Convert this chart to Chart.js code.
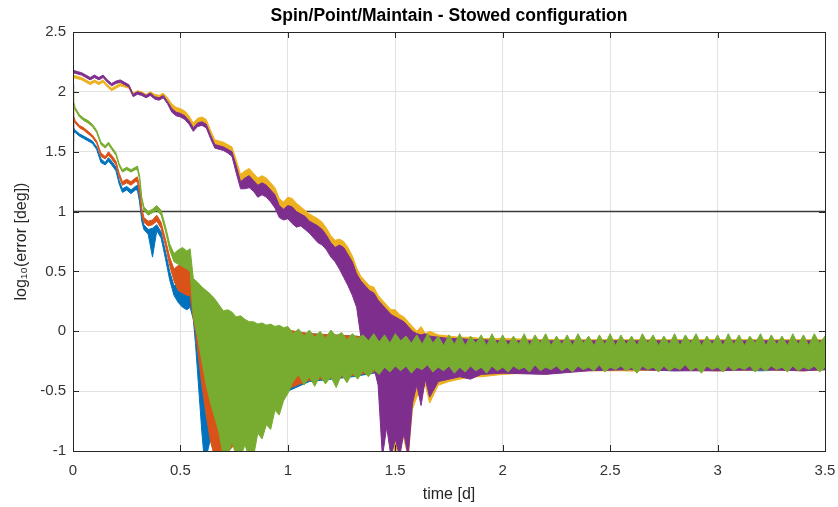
<!DOCTYPE html>
<html>
<head>
<meta charset="utf-8">
<script src="https://cdn.jsdelivr.net/npm/chart.js@4.4.1/dist/chart.umd.min.js"></script>
<style>
  html, body { margin: 0; padding: 0; background: #fff; }
  canvas { display: block; }
</style>
</head>
<body>
<canvas id="chart" width="838" height="507"></canvas>
<script>
// 軸の目盛り
const xTickValues = [0, 0.5, 1, 1.5, 2, 2.5, 3, 3.5];
const yTickValues = [-1, -0.5, 0, 0.5, 1, 1.5, 2, 2.5];

// しきい値ライン (log10 = 1)
const levelTime = [0, 3.5];
const levelValue = [1, 1];

// 速く収束する系列（青・橙）の時刻 [d]
const fastTime = [0, 0.003, 0.01, 0.03, 0.05, 0.07, 0.09, 0.11, 0.13, 0.15, 0.165, 0.18, 0.2, 0.215, 0.23, 0.25, 0.27, 0.29, 0.3, 0.31, 0.32, 0.33, 0.35, 0.37, 0.39, 0.41, 0.43, 0.45, 0.47, 0.49, 0.51, 0.53, 0.545,
  0.56, 0.57, 0.58, 0.59, 0.6, 0.61, 0.62, 0.64, 0.66, 0.68, 0.7, 0.75, 0.8, 0.85, 0.9, 0.95, 1,
  1.1, 1.2, 1.3, 1.4, 1.5, 1.6, 1.7, 1.8, 2, 2.2, 2.4, 2.6, 2.8, 3, 3.2, 3.4, 3.5];

// 青：振動の上端・下端
const blueHigh = [1.76, 1.70, 1.68, 1.65, 1.63, 1.61, 1.59, 1.54, 1.44, 1.41, 1.45, 1.42, 1.37, 1.26, 1.19, 1.21, 1.18, 1.21, 1.22, 1.12, 0.96, 0.89, 0.85, 0.86, 0.89, 0.83, 0.67, 0.50, 0.38, 0.40, 0.44, 0.40, 0.42,
  0.22, 0.16, 0.12, 0.08, 0.04, 0.02, 0.05, 0.08, 0.10, 0.08, 0.10, 0.08, 0.06, 0.05, 0.04, 0.02, 0.00,
  -0.02, -0.03, -0.04, -0.05, -0.05, -0.06, -0.06, -0.07, -0.07, -0.08, -0.08, -0.08, -0.08, -0.08, -0.08, -0.08, -0.08];
const blueLow = [1.50, 1.66, 1.66, 1.63, 1.61, 1.59, 1.57, 1.52, 1.41, 1.39, 1.42, 1.39, 1.34, 1.23, 1.16, 1.18, 1.15, 1.18, 1.18, 1.08, 0.92, 0.85, 0.81, 0.62, 0.84, 0.78, 0.61, 0.43, 0.30, 0.24, 0.20, 0.18, 0.20,
  0.10, -0.10, -0.35, -0.60, -0.85, -1.05, -1.05, -0.90, -1.05, -0.90, -1.05, -0.90, -0.85, -0.80, -0.65, -0.55, -0.50,
  -0.42, -0.40, -0.38, -0.35, -0.34, -0.35, -0.34, -0.35, -0.33, -0.33, -0.32, -0.32, -0.33, -0.32, -0.33, -0.32, -0.32];

// 橙
const orangeHigh = [1.86, 1.80, 1.76, 1.72, 1.70, 1.67, 1.64, 1.59, 1.49, 1.46, 1.50, 1.47, 1.42, 1.32, 1.25, 1.27, 1.25, 1.28, 1.29, 1.20, 1.03, 0.95, 0.92, 0.93, 0.97, 0.91, 0.77, 0.62, 0.52, 0.55, 0.58, 0.55, 0.57,
  0.34, 0.30, 0.26, 0.22, 0.20, 0.18, 0.16, 0.14, 0.13, 0.12, 0.12, 0.10, 0.08, 0.06, 0.05, 0.03, 0.01,
  -0.02, -0.03, -0.04, -0.05, -0.05, -0.06, -0.06, -0.07, -0.07, -0.08, -0.08, -0.08, -0.08, -0.08, -0.08, -0.08, -0.08];
const orangeLow = [1.58, 1.76, 1.74, 1.70, 1.68, 1.65, 1.62, 1.57, 1.46, 1.44, 1.47, 1.44, 1.39, 1.29, 1.22, 1.24, 1.22, 1.25, 1.25, 1.15, 0.98, 0.91, 0.88, 0.89, 0.92, 0.86, 0.72, 0.55, 0.42, 0.34, 0.32, 0.30, 0.30,
  0.10, 0.00, -0.15, -0.30, -0.45, -0.58, -0.70, -0.92, -1.05, -1.05, -1.05, -0.95, -0.88, -0.80, -0.65, -0.55, -0.48,
  -0.41, -0.39, -0.37, -0.34, -0.33, -0.34, -0.33, -0.34, -0.32, -0.33, -0.32, -0.33, -0.32, -0.33, -0.32, -0.33, -0.32];

// 緑（一番上に描かれる）
const greenTime = [0, 0.003, 0.01, 0.03, 0.05, 0.07, 0.09, 0.11, 0.13, 0.15, 0.165, 0.18, 0.2, 0.215, 0.23, 0.25, 0.27, 0.29, 0.3, 0.31, 0.32, 0.33, 0.35, 0.37, 0.39, 0.41, 0.43, 0.45, 0.47, 0.49, 0.51, 0.53, 0.545,
  0.56, 0.58, 0.6, 0.62, 0.64, 0.66, 0.68, 0.7, 0.72, 0.74, 0.76, 0.78, 0.8, 0.82, 0.84, 0.86, 0.88, 0.9, 0.92, 0.94, 0.96, 0.98, 1,
  1.025, 1.05, 1.075, 1.1, 1.125, 1.15, 1.175, 1.2, 1.225, 1.25,
  1.275, 1.3, 1.325, 1.35, 1.375, 1.4, 1.425, 1.45, 1.475, 1.5,
  1.525, 1.55, 1.575, 1.6, 1.625, 1.65, 1.675, 1.7, 1.725, 1.75,
  1.775, 1.8, 1.825, 1.85, 1.875, 1.9, 1.925, 1.95, 1.975, 2,
  2.025, 2.05, 2.075, 2.1, 2.125, 2.15, 2.175, 2.2, 2.225, 2.25,
  2.275, 2.3, 2.325, 2.35, 2.375, 2.4, 2.425, 2.45, 2.475, 2.5,
  2.525, 2.55, 2.575, 2.6, 2.625, 2.65, 2.675, 2.7, 2.725, 2.75,
  2.775, 2.8, 2.825, 2.85, 2.875, 2.9, 2.925, 2.95, 2.975, 3,
  3.025, 3.05, 3.075, 3.1, 3.125, 3.15, 3.175, 3.2, 3.225, 3.25,
  3.275, 3.3, 3.325, 3.35, 3.375, 3.4, 3.425, 3.45, 3.475, 3.5];
const greenHigh = [2.07, 1.92, 1.87, 1.81, 1.78, 1.76, 1.73, 1.68, 1.58, 1.55, 1.58, 1.54, 1.49, 1.40, 1.35, 1.37, 1.35, 1.37, 1.38, 1.30, 1.12, 1.04, 1.00, 1.02, 1.05, 1.01, 0.88, 0.73, 0.65, 0.68, 0.70, 0.67, 0.69,
  0.44, 0.41, 0.37, 0.34, 0.31, 0.27, 0.22, 0.17, 0.18, 0.16, 0.12, 0.13, 0.10, 0.08, 0.08, 0.06, 0.07, 0.05, 0.06, 0.04, 0.05, 0.03, 0.04,
  -0.02, 0.02, -0.04, 0.01, -0.05, 0.00, -0.06, 0.01, -0.04, -0.01,
  -0.07, -0.02, -0.06, -0.03, -0.08, -0.02, -0.09, -0.03, -0.10, -0.02,
  -0.08, -0.04, -0.10, -0.03, -0.11, -0.02, -0.10, -0.04, -0.12, -0.03,
  -0.11, -0.02, -0.12, -0.04, -0.10, -0.03, -0.12, -0.02, -0.11, -0.03,
  -0.12, -0.04, -0.11, -0.02, -0.12, -0.03, -0.10, -0.02, -0.12, -0.04,
  -0.11, -0.03, -0.12, -0.02, -0.10, -0.04, -0.12, -0.03, -0.11, -0.02,
  -0.12, -0.03, -0.11, -0.04, -0.12, -0.02, -0.10, -0.03, -0.12, -0.04,
  -0.11, -0.02, -0.12, -0.03, -0.10, -0.02, -0.12, -0.04, -0.11, -0.03,
  -0.12, -0.02, -0.11, -0.03, -0.12, -0.04, -0.10, -0.02, -0.12, -0.03,
  -0.11, -0.04, -0.12, -0.02, -0.11, -0.03, -0.12, -0.02, -0.10, -0.04];
const greenLow = [1.80, 1.88, 1.85, 1.79, 1.76, 1.74, 1.71, 1.66, 1.56, 1.53, 1.56, 1.52, 1.47, 1.38, 1.33, 1.35, 1.33, 1.35, 1.35, 1.27, 1.09, 1.01, 0.97, 0.99, 1.01, 0.97, 0.84, 0.68, 0.58, 0.56, 0.54, 0.52, 0.50,
  0.12, -0.05, -0.25, -0.45, -0.60, -0.72, -0.85, -1.05, -1.05, -0.92, -1.05, -1.05, -0.95, -1.05, -1.05, -0.85, -0.90, -0.78, -0.82, -0.66, -0.70, -0.58, -0.52,
  -0.42, -0.36, -0.45, -0.38, -0.46, -0.37, -0.44, -0.38, -0.47, -0.36,
  -0.43, -0.35, -0.40, -0.33, -0.38, -0.32, -0.36, -0.30, -0.34, -0.29,
  -0.33, -0.29, -0.35, -0.30, -0.32, -0.28, -0.34, -0.30, -0.33, -0.29,
  -0.35, -0.30, -0.34, -0.29, -0.33, -0.30, -0.35, -0.29, -0.33, -0.30,
  -0.34, -0.29, -0.32, -0.30, -0.34, -0.28, -0.33, -0.30, -0.32, -0.29,
  -0.33, -0.30, -0.34, -0.29, -0.32, -0.30, -0.33, -0.28, -0.34, -0.30,
  -0.32, -0.29, -0.33, -0.30, -0.35, -0.29, -0.32, -0.30, -0.34, -0.29,
  -0.33, -0.30, -0.32, -0.28, -0.33, -0.30, -0.35, -0.29, -0.32, -0.30,
  -0.34, -0.29, -0.33, -0.30, -0.32, -0.29, -0.34, -0.30, -0.33, -0.29,
  -0.32, -0.30, -0.34, -0.29, -0.33, -0.30, -0.32, -0.29, -0.34, -0.30];

// 遅く収束する系列（黄・紫）
const slowTime = [0, 0.02, 0.04, 0.06, 0.08, 0.1, 0.12, 0.14, 0.16, 0.18,
  0.2, 0.22, 0.24, 0.26, 0.28, 0.3, 0.32, 0.34, 0.36, 0.38,
  0.4, 0.42, 0.44, 0.46, 0.48, 0.5, 0.52, 0.54, 0.56, 0.58,
  0.6, 0.62, 0.64, 0.66, 0.68, 0.7, 0.72, 0.74, 0.76, 0.78,
  0.8, 0.82, 0.84, 0.86, 0.88, 0.9, 0.92, 0.94, 0.96, 0.98,
  1, 1.02, 1.04, 1.06, 1.08, 1.1, 1.12, 1.14, 1.16, 1.18,
  1.2, 1.22, 1.24, 1.26, 1.28, 1.3, 1.32, 1.34, 1.36, 1.38,
  1.4, 1.42, 1.44, 1.46, 1.48, 1.5, 1.52, 1.54, 1.56, 1.58,
  1.6, 1.62, 1.64, 1.66,
  1.7, 1.75, 1.8, 1.85, 1.9, 2, 2.2, 2.4, 2.6, 2.8, 3, 3.2, 3.4, 3.5];

const yellowHigh = [2.14, 2.13, 2.12, 2.10, 2.08, 2.10, 2.08, 2.10, 2.06, 2.03,
  2.05, 2.07, 2.06, 2.05, 1.99, 2.01, 2.00, 1.98, 2.00, 1.98,
  1.97, 1.99, 1.95, 1.90, 1.87, 1.86, 1.84, 1.80, 1.74, 1.78,
  1.79, 1.77, 1.68, 1.60, 1.59, 1.58, 1.56, 1.54, 1.43, 1.31,
  1.34, 1.36, 1.32, 1.28, 1.30, 1.28, 1.24, 1.20, 1.11, 1.08,
  1.12, 1.11, 1.07, 1.04, 1.01, 0.98, 0.96, 0.94, 0.91, 0.86,
  0.80, 0.76, 0.77, 0.75, 0.70, 0.63, 0.53, 0.46, 0.42, 0.38,
  0.37, 0.30, 0.26, 0.22, 0.18, 0.18, 0.14, 0.12, 0.08, 0.04,
  0.00, 0.04, -0.02, 0.00,
  -0.03, -0.04, -0.05, -0.05, -0.06, -0.06, -0.07, -0.07, -0.07, -0.07, -0.07, -0.07, -0.07, -0.07];
const yellowLow = [2.12, 2.11, 2.10, 2.08, 2.06, 2.08, 2.06, 2.08, 2.04, 2.01,
  2.03, 2.05, 2.04, 2.03, 1.97, 1.99, 1.98, 1.96, 1.98, 1.96,
  1.95, 1.97, 1.93, 1.86, 1.83, 1.82, 1.80, 1.76, 1.70, 1.74,
  1.75, 1.73, 1.64, 1.56, 1.55, 1.54, 1.52, 1.49, 1.36, 1.22,
  1.24, 1.26, 1.22, 1.18, 1.20, 1.18, 1.14, 1.09, 1.00, 0.97,
  1.00, 0.97, 0.94, 0.93, 0.90, 0.86, 0.83, 0.80, 0.78, 0.73,
  0.67, 0.63, 0.58, 0.52, 0.44, 0.36, 0.26, -0.02, -0.06, -0.12,
  -0.25, -0.40, -0.70, -0.80, -0.85, -1.05, -0.80, -0.90, -1.05, -0.65,
  -0.55, -0.50, -0.45, -0.60,
  -0.45, -0.42, -0.40, -0.38, -0.38, -0.36, -0.34, -0.33, -0.33, -0.32, -0.33, -0.32, -0.33, -0.32];

const purpleHigh = [2.18, 2.17, 2.16, 2.14, 2.12, 2.14, 2.12, 2.14, 2.10, 2.07,
  2.09, 2.10, 2.08, 2.06, 1.98, 2.00, 1.99, 1.97, 1.99, 1.96,
  1.95, 1.97, 1.92, 1.86, 1.83, 1.82, 1.80, 1.76, 1.70, 1.74,
  1.75, 1.73, 1.64, 1.56, 1.55, 1.54, 1.52, 1.50, 1.38, 1.25,
  1.28, 1.30, 1.26, 1.22, 1.24, 1.22, 1.18, 1.14, 1.05, 1.02,
  1.05, 1.04, 1.00, 0.98, 0.96, 0.92, 0.90, 0.88, 0.85, 0.80,
  0.74, 0.70, 0.72, 0.70, 0.64, 0.58, 0.48, 0.42, 0.38, 0.34,
  0.32, 0.26, 0.22, 0.18, 0.14, 0.12, 0.10, 0.08, 0.04, 0.00,
  -0.02, -0.03, -0.02, -0.04,
  -0.05, -0.06, -0.06, -0.07, -0.07, -0.08, -0.08, -0.08, -0.08, -0.08, -0.08, -0.08, -0.08, -0.08];
const purpleLow = [2.16, 2.15, 2.14, 2.12, 2.10, 2.12, 2.10, 2.12, 2.08, 2.05,
  2.07, 2.08, 2.06, 2.04, 1.96, 1.98, 1.97, 1.95, 1.97, 1.94,
  1.93, 1.95, 1.90, 1.83, 1.80, 1.79, 1.77, 1.73, 1.67, 1.71,
  1.72, 1.70, 1.61, 1.53, 1.52, 1.51, 1.49, 1.46, 1.32, 1.19,
  1.19, 1.20, 1.17, 1.12, 1.14, 1.12, 1.08, 1.03, 0.95, 0.93,
  0.94, 0.90, 0.87, 0.88, 0.85, 0.82, 0.78, 0.74, 0.72, 0.68,
  0.62, 0.58, 0.52, 0.45, 0.38, 0.30, 0.20, -0.05, -0.08, -0.15,
  -0.30, -0.45, -1.05, -0.80, -1.05, -0.90, -1.05, -0.85, -1.05, -0.60,
  -0.45, -0.62, -0.40, -0.55,
  -0.42, -0.40, -0.38, -0.40, -0.36, -0.35, -0.36, -0.33, -0.32, -0.33, -0.33, -0.32, -0.33, -0.32];

const FONT = "'Liberation Sans', Arial, Helvetica, sans-serif";
const AXIS_COLOR = '#262626';

function points(time, values) {
  return time.map((t, i) => ({ x: t, y: values[i] }));
}

// 上端と下端の間を塗りつぶして振動の帯を描く
function band(label, time, high, low, color, order) {
  return [
    { label: label + ' low', data: points(time, low), borderColor: color, backgroundColor: color,
      borderWidth: 1, pointRadius: 0, fill: false, order: order },
    { label: label, data: points(time, high), borderColor: color, backgroundColor: color,
      borderWidth: 1, pointRadius: 0, fill: '-1', order: order }
  ];
}

// 内向きの目盛りと枠線
const axesBox = {
  id: 'axesBox',
  afterDraw(chart) {
    const { ctx, chartArea: a, scales: { x, y } } = chart;
    ctx.save();
    ctx.strokeStyle = AXIS_COLOR;
    ctx.lineWidth = 1;
    ctx.beginPath();
    x.ticks.forEach(t => {
      const px = Math.round(x.getPixelForValue(t.value)) + 0.5;
      ctx.moveTo(px, a.bottom); ctx.lineTo(px, a.bottom - 6);
      ctx.moveTo(px, a.top); ctx.lineTo(px, a.top + 6);
    });
    y.ticks.forEach(t => {
      const py = Math.round(y.getPixelForValue(t.value)) + 0.5;
      ctx.moveTo(a.left, py); ctx.lineTo(a.left + 6, py);
      ctx.moveTo(a.right, py); ctx.lineTo(a.right - 6, py);
    });
    ctx.stroke();
    ctx.strokeRect(Math.round(a.left) + 0.5, Math.round(a.top) + 0.5,
      Math.round(a.right) - Math.round(a.left), Math.round(a.bottom) - Math.round(a.top));
    ctx.restore();
  }
};

const datasets = [
  ...band('series 5', greenTime, greenHigh, greenLow, '#77AC30', 1),
  ...band('series 4', slowTime, purpleHigh, purpleLow, '#7E2F8E', 2),
  ...band('series 3', slowTime, yellowHigh, yellowLow, '#EDB120', 3),
  ...band('series 2', fastTime, orangeHigh, orangeLow, '#D95319', 4),
  ...band('series 1', fastTime, blueHigh, blueLow, '#0072BD', 5),
  { label: 'limit', data: points(levelTime, levelValue), borderColor: '#3a3a3a',
    borderWidth: 1.6, pointRadius: 0, fill: false, order: 6 }
];

new Chart(document.getElementById('chart'), {
  type: 'line',
  data: { datasets },
  options: {
    responsive: false,
    animation: false,
    layout: { autoPadding: false, padding: { left: 0, right: 13, top: 0, bottom: 0 } },
    elements: { line: { tension: 0 } },
    plugins: {
      legend: { display: false },
      tooltip: { enabled: false },
      title: {
        display: true,
        text: 'Spin/Point/Maintain - Stowed configuration',
        color: '#000',
        fullSize: false,
        font: { family: FONT, size: 17.5, weight: 'bold' },
        padding: { top: 6, bottom: 5 }
      }
    },
    scales: {
      x: {
        type: 'linear',
        min: 0, max: 3.5,
        afterBuildTicks: s => { s.ticks = xTickValues.map(v => ({ value: v })); },
        afterFit: s => { s.height = 56; s.paddingLeft = 0; s.paddingRight = 0; },
        grid: { color: '#e2e2e2', drawTicks: false },
        border: { display: false },
        ticks: { color: '#333', font: { family: FONT, size: 15 }, padding: 10.5, maxRotation: 0,
          callback: v => String(v) },
        title: { display: true, text: 'time [d]', color: AXIS_COLOR,
          font: { family: FONT, size: 16 }, padding: { top: 0, bottom: 2.4 } }
      },
      y: {
        min: -1, max: 2.5,
        afterBuildTicks: s => { s.ticks = yTickValues.map(v => ({ value: v })); },
        afterFit: s => { s.width = 73; s.paddingTop = 0; s.paddingBottom = 0; },
        grid: { color: '#e2e2e2', drawTicks: false },
        border: { display: false },
        ticks: { color: '#333', font: { family: FONT, size: 15 }, padding: 7,
          callback: v => String(v) },
        title: { display: true, text: 'log₁₀(error [deg])', color: AXIS_COLOR,
          font: { family: FONT, size: 16 }, padding: { top: 12, bottom: 0 } }
      }
    }
  },
  plugins: [axesBox]
});
</script>
</body>
</html>
